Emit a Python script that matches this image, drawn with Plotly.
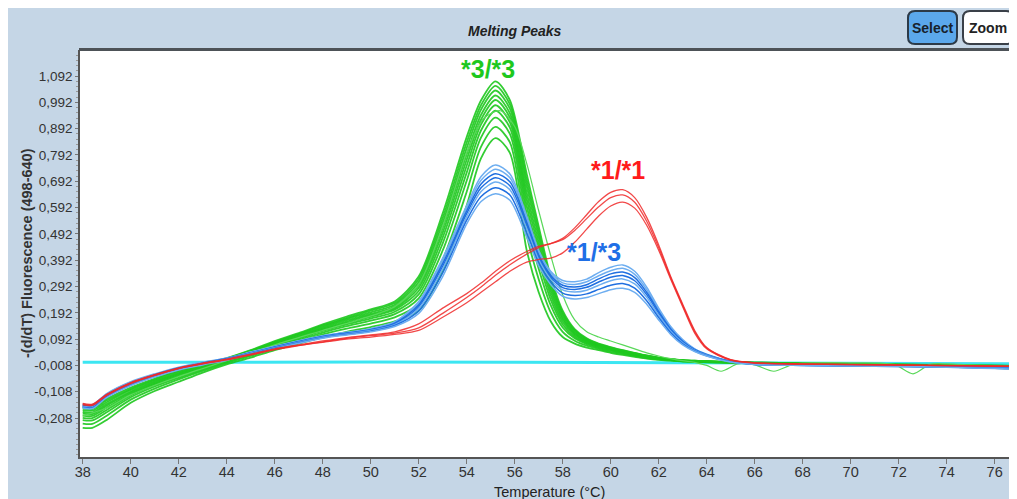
import plotly.graph_objects as go

# ---------------- data ----------------
temps = [38, 38.4, 39, 40, 41, 42, 43, 44, 45, 46, 47, 48, 49, 50, 51, 52, 53, 54, 54.6, 55.2,
         55.8, 56.5, 57, 57.5, 58, 58.5, 59, 59.5, 60, 60.5, 61, 61.5, 62, 62.5, 63, 63.5, 64,
         65, 66, 68, 70, 72, 74, 76, 77]

# *3/*3 genotype (green)
green_01 = [-0.165, -0.168, -0.135, -0.092, -0.058, -0.027, -0.004, 0.02, 0.05, 0.085, 0.115, 0.148, 0.178, 0.205, 0.235, 0.33, 0.57, 0.86, 1.0, 1.072, 1.0, 0.72, 0.52, 0.33, 0.2, 0.13, 0.095, 0.075, 0.062, 0.05, 0.04, 0.03, 0.022, 0.016, 0.012, 0.01, 0.008, 0.005, 0.003, 0.0, -0.002, -0.004, -0.006, -0.008, -0.009]
green_02 = [-0.171, -0.174, -0.141, -0.097, -0.062, -0.03, -0.007, 0.018, 0.048, 0.082, 0.112, 0.144, 0.173, 0.2, 0.229, 0.32, 0.552, 0.839, 0.982, 1.055, 0.984, 0.697, 0.5, 0.316, 0.192, 0.126, 0.092, 0.073, 0.06, 0.049, 0.039, 0.029, 0.021, 0.016, 0.012, 0.01, 0.008, 0.005, 0.003, 0.0, -0.002, -0.004, -0.007, -0.009, -0.01]
green_03 = [-0.178, -0.18, -0.148, -0.101, -0.066, -0.034, -0.009, 0.016, 0.046, 0.079, 0.109, 0.14, 0.169, 0.194, 0.223, 0.309, 0.535, 0.818, 0.965, 1.037, 0.968, 0.674, 0.48, 0.303, 0.184, 0.121, 0.089, 0.071, 0.058, 0.047, 0.038, 0.028, 0.021, 0.015, 0.011, 0.009, 0.007, 0.005, 0.003, -0.001, -0.003, -0.005, -0.007, -0.01, -0.011]
green_04 = [-0.185, -0.187, -0.155, -0.107, -0.07, -0.038, -0.012, 0.014, 0.043, 0.076, 0.105, 0.136, 0.164, 0.188, 0.216, 0.298, 0.515, 0.795, 0.945, 1.018, 0.95, 0.648, 0.458, 0.288, 0.175, 0.116, 0.086, 0.069, 0.057, 0.046, 0.036, 0.027, 0.02, 0.015, 0.011, 0.009, 0.007, 0.004, 0.002, -0.001, -0.003, -0.006, -0.008, -0.011, -0.012]
green_05 = [-0.191, -0.193, -0.161, -0.111, -0.074, -0.041, -0.014, 0.012, 0.041, 0.073, 0.102, 0.132, 0.159, 0.183, 0.21, 0.287, 0.497, 0.774, 0.927, 1.001, 0.934, 0.624, 0.438, 0.274, 0.167, 0.112, 0.083, 0.067, 0.055, 0.044, 0.035, 0.026, 0.019, 0.014, 0.01, 0.008, 0.007, 0.004, 0.002, -0.001, -0.004, -0.006, -0.008, -0.011, -0.013]
green_06 = [-0.199, -0.2, -0.169, -0.116, -0.078, -0.045, -0.017, 0.01, 0.038, 0.07, 0.098, 0.128, 0.154, 0.177, 0.204, 0.275, 0.478, 0.751, 0.908, 0.981, 0.916, 0.598, 0.415, 0.259, 0.158, 0.107, 0.08, 0.065, 0.053, 0.042, 0.034, 0.025, 0.018, 0.013, 0.01, 0.008, 0.006, 0.004, 0.002, -0.002, -0.004, -0.007, -0.009, -0.012, -0.014]
green_07 = [-0.207, -0.208, -0.177, -0.122, -0.082, -0.049, -0.02, 0.008, 0.035, 0.067, 0.094, 0.123, 0.148, 0.17, 0.196, 0.262, 0.456, 0.725, 0.886, 0.96, 0.896, 0.569, 0.39, 0.242, 0.148, 0.101, 0.077, 0.062, 0.051, 0.041, 0.032, 0.024, 0.017, 0.013, 0.009, 0.007, 0.006, 0.003, 0.001, -0.002, -0.005, -0.007, -0.01, -0.013, -0.015]
green_08 = [-0.216, -0.217, -0.186, -0.129, -0.088, -0.055, -0.024, 0.005, 0.032, 0.063, 0.089, 0.117, 0.141, 0.162, 0.187, 0.247, 0.429, 0.694, 0.859, 0.934, 0.872, 0.534, 0.36, 0.221, 0.136, 0.095, 0.073, 0.059, 0.048, 0.039, 0.03, 0.022, 0.016, 0.012, 0.009, 0.007, 0.005, 0.003, 0.001, -0.003, -0.005, -0.008, -0.01, -0.014, -0.016]
green_09 = [-0.229, -0.23, -0.199, -0.138, -0.096, -0.061, -0.029, 0.001, 0.028, 0.057, 0.083, 0.11, 0.132, 0.151, 0.175, 0.226, 0.394, 0.652, 0.824, 0.899, 0.84, 0.488, 0.32, 0.194, 0.12, 0.086, 0.067, 0.055, 0.044, 0.036, 0.028, 0.02, 0.015, 0.011, 0.008, 0.006, 0.005, 0.003, 0.001, -0.003, -0.006, -0.009, -0.012, -0.016, -0.018]
green_10 = [-0.245, -0.245, -0.215, -0.15, -0.105, -0.07, -0.035, -0.004, 0.022, 0.05, 0.075, 0.1, 0.12, 0.138, 0.16, 0.2, 0.35, 0.6, 0.78, 0.856, 0.8, 0.43, 0.27, 0.16, 0.1, 0.075, 0.06, 0.05, 0.04, 0.032, 0.025, 0.018, 0.013, 0.01, 0.007, 0.005, 0.004, 0.002, 0.0, -0.004, -0.007, -0.01, -0.013, -0.018, -0.02]

# one *3/*3 sample with a wavy tail
temps_green_wavy = [38, 39, 40, 42, 44, 46, 48, 50, 51, 52, 53, 54, 54.7, 55.4, 56, 56.5, 57, 57.5, 58, 58.5,
                    59, 59.5, 60, 60.5, 61, 61.5, 62, 62.5, 63, 63.5, 64, 64.6, 65.3, 66, 66.8, 67.6, 68.5,
                    70, 71.8, 72.6, 73.3, 74, 75, 76, 77]
green_wavy = [-0.2, -0.17, -0.12, -0.05, 0.01, 0.07, 0.125, 0.18, 0.215, 0.3, 0.52, 0.8, 0.93, 0.96, 0.9, 0.76, 0.58, 0.41, 0.26, 0.165,
              0.12, 0.1, 0.085, 0.07, 0.055, 0.04, 0.028, 0.018, 0.01, 0.004, -0.008, -0.03, -0.002, -0.006, -0.03, -0.004, 0.002,
              0.002, -0.004, -0.04, -0.004, -0.002, -0.006, -0.01, -0.012]

# *1/*3 genotype (blue)
blue_01 = [-0.155, -0.157, -0.115, -0.07, -0.04, -0.015, 0.004, 0.02, 0.043, 0.065, 0.086, 0.105, 0.118, 0.132, 0.158, 0.235, 0.4, 0.6, 0.71, 0.754, 0.72, 0.56, 0.43, 0.35, 0.315, 0.31, 0.32, 0.345, 0.365, 0.374, 0.35, 0.29, 0.21, 0.14, 0.09, 0.055, 0.035, 0.008, -0.002, -0.006, -0.008, -0.01, -0.012, -0.015, -0.016]
blue_02 = [-0.157, -0.159, -0.117, -0.072, -0.042, -0.017, 0.003, 0.019, 0.042, 0.064, 0.085, 0.104, 0.117, 0.13, 0.155, 0.228, 0.39, 0.59, 0.696, 0.738, 0.705, 0.548, 0.421, 0.343, 0.306, 0.3, 0.31, 0.333, 0.352, 0.361, 0.338, 0.28, 0.203, 0.136, 0.087, 0.054, 0.034, 0.008, -0.002, -0.006, -0.008, -0.01, -0.012, -0.016, -0.017]
blue_03 = [-0.16, -0.162, -0.12, -0.075, -0.044, -0.018, 0.001, 0.018, 0.04, 0.062, 0.083, 0.102, 0.115, 0.128, 0.153, 0.222, 0.379, 0.579, 0.682, 0.721, 0.69, 0.536, 0.412, 0.335, 0.297, 0.29, 0.299, 0.321, 0.34, 0.347, 0.326, 0.27, 0.197, 0.131, 0.084, 0.052, 0.033, 0.007, -0.003, -0.007, -0.009, -0.011, -0.013, -0.017, -0.018]
blue_04 = [-0.162, -0.164, -0.122, -0.077, -0.045, -0.02, -0.001, 0.016, 0.039, 0.061, 0.082, 0.101, 0.114, 0.127, 0.15, 0.215, 0.369, 0.569, 0.667, 0.705, 0.675, 0.524, 0.403, 0.328, 0.288, 0.281, 0.289, 0.309, 0.327, 0.334, 0.314, 0.261, 0.19, 0.127, 0.081, 0.051, 0.032, 0.007, -0.003, -0.007, -0.009, -0.011, -0.013, -0.017, -0.019]
blue_05 = [-0.164, -0.166, -0.124, -0.079, -0.047, -0.021, -0.002, 0.015, 0.038, 0.059, 0.08, 0.099, 0.112, 0.125, 0.147, 0.208, 0.358, 0.558, 0.653, 0.689, 0.66, 0.512, 0.394, 0.32, 0.279, 0.271, 0.278, 0.297, 0.314, 0.321, 0.302, 0.251, 0.183, 0.122, 0.078, 0.049, 0.031, 0.006, -0.003, -0.007, -0.009, -0.011, -0.014, -0.018, -0.02]
blue_06 = [-0.167, -0.169, -0.127, -0.082, -0.05, -0.023, -0.004, 0.014, 0.036, 0.057, 0.078, 0.097, 0.11, 0.122, 0.144, 0.199, 0.344, 0.544, 0.634, 0.667, 0.64, 0.496, 0.382, 0.31, 0.267, 0.258, 0.264, 0.281, 0.297, 0.303, 0.286, 0.238, 0.174, 0.116, 0.074, 0.047, 0.029, 0.006, -0.004, -0.008, -0.01, -0.012, -0.014, -0.019, -0.021]
blue_07 = [-0.17, -0.172, -0.13, -0.085, -0.052, -0.025, -0.006, 0.012, 0.034, 0.055, 0.076, 0.095, 0.108, 0.12, 0.14, 0.19, 0.33, 0.53, 0.615, 0.645, 0.62, 0.48, 0.37, 0.3, 0.255, 0.245, 0.25, 0.265, 0.28, 0.285, 0.27, 0.225, 0.165, 0.11, 0.07, 0.045, 0.028, 0.005, -0.004, -0.008, -0.01, -0.012, -0.015, -0.02, -0.022]

# *1/*1 genotype (red)
red_01 = [-0.152, -0.155, -0.118, -0.073, -0.043, -0.017, 0.001, 0.016, 0.035, 0.055, 0.07, 0.085, 0.098, 0.108, 0.12, 0.15, 0.21, 0.265, 0.305, 0.35, 0.39, 0.425, 0.445, 0.455, 0.475, 0.515, 0.565, 0.615, 0.65, 0.66, 0.63, 0.555, 0.45, 0.33, 0.225, 0.125, 0.06, 0.014, 0.002, -0.002, -0.004, -0.006, -0.008, -0.01, -0.011]
red_02 = [-0.158, -0.16, -0.122, -0.077, -0.046, -0.02, -0.002, 0.013, 0.032, 0.052, 0.067, 0.082, 0.095, 0.105, 0.115, 0.135, 0.19, 0.25, 0.29, 0.335, 0.375, 0.415, 0.44, 0.455, 0.47, 0.505, 0.55, 0.595, 0.63, 0.64, 0.612, 0.54, 0.44, 0.325, 0.22, 0.12, 0.058, 0.013, 0.002, -0.003, -0.005, -0.007, -0.009, -0.011, -0.012]
red_03 = [-0.155, -0.158, -0.12, -0.075, -0.045, -0.019, -0.001, 0.014, 0.033, 0.053, 0.068, 0.08, 0.092, 0.1, 0.11, 0.125, 0.175, 0.23, 0.27, 0.31, 0.35, 0.385, 0.395, 0.4, 0.42, 0.46, 0.51, 0.56, 0.598, 0.613, 0.59, 0.525, 0.43, 0.32, 0.215, 0.115, 0.055, 0.012, 0.001, -0.003, -0.005, -0.007, -0.009, -0.011, -0.012]

# negative control (cyan)
temps_control = [38, 44, 50, 56, 62, 68, 74, 77]
control = [0.004, 0.005, 0.005, 0.004, 0.003, 0.002, 0.0, -0.002]

y_tick_values = [1.092, 0.992, 0.892, 0.792, 0.692, 0.592, 0.492, 0.392, 0.292, 0.192, 0.092, -0.008, -0.108, -0.208]
y_tick_labels = ["1,092", "0,992", "0,892", "0,792", "0,692", "0,592", "0,492", "0,392", "0,292", "0,192",
                 "0,092", "-0,008", "-0,108", "-0,208"]

labels = ["*3/*3", "*1/*1", "*1/*3"]
label_x = [54.87, 60.32, 59.3]
label_y = [1.119, 0.735, 0.424]

# ---------------- styling ----------------
# The page body has an 8px margin, so the figure starts at (8, 8) of the window.
OFF = 8
W, H = 1017 - OFF, 499 - OFF
L, R, T, B = 80 - OFF, 1017 - OFF, 50 - OFF, 457 - OFF
GREEN = "#1ec81e"
BLUE_DARK = "#1f6fe0"
BLUE_LIGHT = "#6eaef0"
RED = "#f02a2a"
CYAN = "#3ce6f2"
PANEL = "#c5d6e6"
NARROW = "Liberation Sans Narrow, Arial Narrow, Liberation Sans, Arial, sans-serif"
SANS = "Liberation Sans, Arial, sans-serif"


def px(x):
    """window pixel x -> paper coordinate"""
    return (x - OFF - L) / (R - L)


def py(y):
    """window pixel y -> paper coordinate"""
    return (B - (y - OFF)) / (B - T)


fig = go.Figure()

fig.add_trace(go.Scatter(x=temps_control, y=control, mode="lines",
                         line=dict(color=CYAN, width=3), hoverinfo="skip"))

for ys in [green_10, green_09, green_08, green_07, green_06, green_05, green_04, green_03, green_02, green_01]:
    fig.add_trace(go.Scatter(x=temps, y=ys, mode="lines",
                             line=dict(color=GREEN, width=1.8, shape="spline", smoothing=0.8),
                             opacity=0.9, hoverinfo="skip"))
fig.add_trace(go.Scatter(x=temps_green_wavy, y=green_wavy, mode="lines",
                         line=dict(color="#5ad85a", width=1.2, shape="spline", smoothing=0.8),
                         hoverinfo="skip"))

blue_sets = [(blue_01, BLUE_LIGHT), (blue_02, BLUE_LIGHT), (blue_03, BLUE_DARK), (blue_04, BLUE_DARK),
             (blue_05, BLUE_LIGHT), (blue_06, BLUE_DARK), (blue_07, BLUE_LIGHT)]
for ys, col in blue_sets:
    fig.add_trace(go.Scatter(x=temps, y=ys, mode="lines",
                             line=dict(color=col, width=1.5, shape="spline", smoothing=0.8),
                             hoverinfo="skip"))

for ys in [red_01, red_02, red_03]:
    fig.add_trace(go.Scatter(x=temps, y=ys, mode="lines",
                             line=dict(color=RED, width=1.3, shape="spline", smoothing=0.8),
                             opacity=0.85, hoverinfo="skip"))

label_colors = [GREEN, "#ff1a1a", "#1f6fe6"]
for txt, lx, ly, col in zip(labels, label_x, label_y, label_colors):
    fig.add_annotation(x=lx, y=ly, xref="x", yref="y", text="<b>" + txt + "</b>", showarrow=False,
                       font=dict(family=SANS, size=25, color=col), xanchor="center", yanchor="middle")

# axis titles & chart title
fig.add_annotation(x=px(27), y=py(253), xref="paper", yref="paper", textangle=-90,
                   text="<b>-(d/dT) Fluorescence (498-640)</b>", showarrow=False,
                   font=dict(family=SANS, size=14.5, color="#333"), xanchor="center", yanchor="middle")
fig.add_annotation(x=px(549), y=py(492), xref="paper", yref="paper",
                   text="Temperature (°C)", showarrow=False,
                   font=dict(family=NARROW, size=14.5, color="#222"), xanchor="center", yanchor="middle")
fig.add_annotation(x=px(515), y=py(31), xref="paper", yref="paper",
                   text="<b><i>Melting Peaks</i></b>", showarrow=False,
                   font=dict(family=SANS, size=14, color="#222"), xanchor="center", yanchor="middle")


def rounded_rect(x0, y0, x1, y1, r):
    pts = [
        f"M {px(x0 + r)},{py(y0)}",
        f"L {px(x1 - r)},{py(y0)}",
        f"Q {px(x1)},{py(y0)} {px(x1)},{py(y0 + r)}",
        f"L {px(x1)},{py(y1 - r)}",
        f"Q {px(x1)},{py(y1)} {px(x1 - r)},{py(y1)}",
        f"L {px(x0 + r)},{py(y1)}",
        f"Q {px(x0)},{py(y1)} {px(x0)},{py(y1 - r)}",
        f"L {px(x0)},{py(y0 + r)}",
        f"Q {px(x0)},{py(y0)} {px(x0 + r)},{py(y0)}",
        "Z",
    ]
    return " ".join(pts)


shapes = [
    # thick top border of plotting area
    dict(type="line", xref="paper", yref="paper", x0=px(79), x1=px(1020), y0=py(49.5), y1=py(49.5),
         line=dict(color="#4d5257", width=3), layer="above"),
    # buttons
    dict(type="path", xref="paper", yref="paper", path=rounded_rect(908, 11, 957, 44, 7),
         fillcolor="#5ba8ec", line=dict(color="#2c3a48", width=2), layer="above"),
    dict(type="path", xref="paper", yref="paper", path=rounded_rect(963, 11, 1013, 44, 7),
         fillcolor="white", line=dict(color="#3a4048", width=2), layer="above"),
]
fig.add_annotation(x=px(932.5), y=py(28), xref="paper", yref="paper", text="<b>Select</b>", showarrow=False,
                   font=dict(family=SANS, size=14, color="#17212b"), xanchor="center", yanchor="middle")
fig.add_annotation(x=px(988), y=py(28), xref="paper", yref="paper", text="<b>Zoom</b>", showarrow=False,
                   font=dict(family=SANS, size=14, color="#222"), xanchor="center", yanchor="middle")

fig.update_layout(
    width=W, height=H,
    margin=dict(l=L, r=W - R, t=T, b=H - B, pad=0),
    paper_bgcolor=PANEL, plot_bgcolor="white",
    showlegend=False,
    shapes=shapes,
    xaxis=dict(range=[37.8875, 76.93], tickmode="linear", tick0=38, dtick=2,
               showgrid=False, zeroline=False, showline=True, linecolor="#555", linewidth=1.5,
               ticks="outside", ticklen=5, tickcolor="#777", tickwidth=1, ticklabelstandoff=-4,
               tickfont=dict(family=NARROW, size=14.5, color="#333")),
    yaxis=dict(range=[-0.356, 1.191], tickmode="array", tickvals=y_tick_values, ticktext=y_tick_labels,
               showgrid=False, zeroline=False, showline=True, linecolor="#555", linewidth=1.5,
               ticks="outside", ticklen=3, tickcolor="#777", tickwidth=1,
               minor=dict(tickmode="linear", tick0=-0.008, dtick=0.02, ticks="outside", ticklen=2,
                          tickcolor="#999"),
               tickfont=dict(family=NARROW, size=13.5, color="#333")),
)

fig.write_html("out.html", config={"displayModeBar": False})
